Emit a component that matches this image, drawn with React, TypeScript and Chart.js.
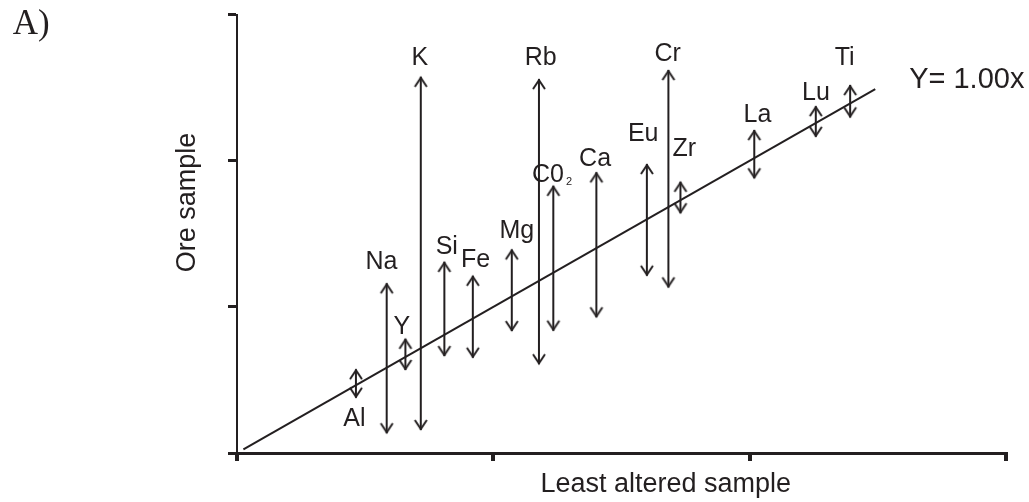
import React, { useEffect, useRef } from "react";
import { Chart, registerables } from "chart.js";

Chart.register(...registerables);

// ---- data ----
const elements = ["Al", "Na", "Y", "K", "Si", "Fe", "Mg", "Rb", "C0", "Ca", "Eu", "Cr", "Zr", "La", "Lu", "Ti"];
const subscripts = ["", "", "", "", "", "", "", "", "2", "", "", "", "", "", "", ""];
const leastAltered = [0.464, 0.584, 0.657, 0.717, 0.809, 0.92, 1.072, 1.178, 1.234, 1.402, 1.599, 1.683, 1.73, 2.018, 2.258, 2.392];
const oreHigh = [0.573, 1.161, 0.782, 2.574, 1.308, 1.213, 1.393, 2.558, 1.828, 1.92, 1.977, 2.62, 1.856, 2.209, 2.373, 2.517];
const oreLow = [0.378, 0.135, 0.568, 0.157, 0.663, 0.652, 0.834, 0.607, 0.837, 0.928, 1.213, 1.133, 1.64, 1.879, 2.163, 2.296];
const xTicks = [0, 1, 2, 3];
const yTicks = [0, 1, 2, 3];
const fitSlope = 1.0;
const fitRange = [0.025, 2.49];
const fitLabel = "Y= 1.00x";
const xTitle = "Least altered sample";
const yTitle = "Ore sample";
const panelLabel = "A)";

// ---- layout / style (not data) ----
const INK = "#231f20";
const SANS = '"Liberation Sans", Arial, Helvetica, sans-serif';
const SERIF = '"Liberation Serif", "Times New Roman", serif';
// label offset in px from the arrow tip (top tip, or bottom tip when labelBelow)
const labelBelow = [true, false, false, false, false, false, false, false, false, false, false, false, false, false, false, false];
const labelOffsets: [number, number][] = [
  [-1.5, 19], [-5.2, -23.5], [-3.5, -13.7], [-1, -20.4], [2.4, -16.7], [2.8, -17.7], [5, -20.1], [1.8, -23.5],
  [-5.3, -13.2], [-1.3, -15.5], [-3.7, -32.3], [-0.8, -17.5], [3.9, -34.5], [3.2, -17.5], [0.1, -15.2], [-5.5, -29.2],
];

function makeHead(dir: number) {
  const c = document.createElement("canvas");
  c.width = 16;
  c.height = 26;
  const g = c.getContext("2d")!;
  g.strokeStyle = INK;
  g.lineWidth = 2;
  g.lineJoin = "miter";
  const cx = 8;
  const cy = 13 + dir * 1;
  g.beginPath();
  g.moveTo(cx - 6, cy + dir * 9);
  g.lineTo(cx, cy);
  g.lineTo(cx + 6, cy + dir * 9);
  g.stroke();
  return c;
}

const textPlugin = {
  id: "textPlugin",
  afterDatasetsDraw(chart: any) {
    const { ctx, scales } = chart;
    const xs = scales.x;
    const ys = scales.y;
    ctx.save();
    ctx.fillStyle = INK;
    ctx.textBaseline = "alphabetic";
    // element labels
    const fs = 25;
    elements.forEach((el, i) => {
      const px = xs.getPixelForValue(leastAltered[i]);
      const py = ys.getPixelForValue(labelBelow[i] ? oreLow[i] : oreHigh[i]);
      const [dx, dy] = labelOffsets[i];
      const cx = px + dx;
      const base = py + dy + 0.358 * fs;
      ctx.font = `${fs}px ${SANS}`;
      ctx.textAlign = "center";
      ctx.fillText(el, cx, base);
      if (subscripts[i]) {
        const w = ctx.measureText(el).width;
        ctx.font = `11px ${SANS}`;
        ctx.textAlign = "left";
        ctx.fillText(subscripts[i], cx + w / 2 + 2, base + 3.5);
      }
    });
    // fit label anchored to fit line end
    const ex = xs.getPixelForValue(fitRange[1]);
    const ey = ys.getPixelForValue(fitSlope * fitRange[1]);
    ctx.font = `29px ${SANS}`;
    ctx.textAlign = "center";
    ctx.fillText(fitLabel, ex + 91.5, ey - 11.8 + 0.358 * 29);
    // axis titles
    ctx.font = `27px ${SANS}`;
    ctx.textAlign = "center";
    ctx.fillText(xTitle, 665.7, 491.7);
    ctx.save();
    ctx.translate(195, 202.5);
    ctx.rotate(-Math.PI / 2);
    ctx.fillText(yTitle, 0, 0);
    ctx.restore();
    // panel label
    ctx.font = `35px ${SERIF}`;
    ctx.textAlign = "left";
    ctx.fillText(panelLabel, 12.7, 33.5);
    ctx.restore();
  },
};

export default function App() {
  const ref = useRef<HTMLCanvasElement | null>(null);
  useEffect(() => {
    if (!ref.current) return;
    const upImg = makeHead(1);
    const downImg = makeHead(-1);
    const shafts: any[] = [];
    leastAltered.forEach((x, i) => {
      shafts.push({ x, y: oreLow[i] });
      shafts.push({ x, y: oreHigh[i] });
      shafts.push({ x, y: null });
    });
    const chart = new Chart(ref.current, {
      type: "scatter",
      data: {
        datasets: [
          {
            label: "fit",
            data: fitRange.map((v) => ({ x: v, y: fitSlope * v })),
            showLine: true,
            borderColor: INK,
            borderWidth: 2,
            pointRadius: 0,
          },
          {
            label: "range",
            data: shafts,
            showLine: true,
            spanGaps: false,
            borderColor: INK,
            borderWidth: 2,
            pointRadius: 0,
          },
          {
            label: "high",
            data: leastAltered.map((x, i) => ({ x, y: oreHigh[i] })),
            pointStyle: upImg as any,
            pointRadius: 4,
          },
          {
            label: "low",
            data: leastAltered.map((x, i) => ({ x, y: oreLow[i] })),
            pointStyle: downImg as any,
            pointRadius: 4,
          },
        ],
      },
      options: {
        animation: false,
        responsive: false,
        events: [],
        layout: { padding: { left: 228, top: 14.5, right: 23, bottom: 41 } },
        plugins: { legend: { display: false }, tooltip: { enabled: false } },
        scales: {
          x: {
            type: "linear",
            min: xTicks[0],
            max: xTicks[xTicks.length - 1],
            afterBuildTicks: (s: any) => {
              s.ticks = xTicks.map((v) => ({ value: v }));
            },
            ticks: { display: false },
            grid: { drawOnChartArea: false, drawTicks: true, tickLength: 8, lineWidth: 4, color: INK },
            border: { display: true, width: 3, color: INK },
          },
          y: {
            type: "linear",
            min: yTicks[0],
            max: yTicks[yTicks.length - 1],
            afterBuildTicks: (s: any) => {
              s.ticks = yTicks.map((v) => ({ value: v }));
            },
            ticks: { display: false },
            grid: { drawOnChartArea: false, drawTicks: true, tickLength: 9, lineWidth: 3, color: INK },
            border: { display: true, width: 2, color: INK },
          },
        },
      },
      plugins: [textPlugin],
    } as any);
    return () => chart.destroy();
  }, []);
  return (
    <div style={{ position: "fixed", left: 0, top: 0, width: 1029, height: 502, background: "#fff" }}>
      <canvas ref={ref} width={1029} height={502} style={{ display: "block" }} />
    </div>
  );
}
